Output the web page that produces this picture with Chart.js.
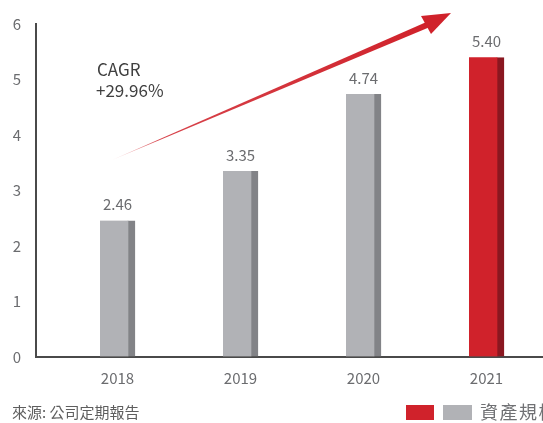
<!DOCTYPE html>
<html>
<head>
<meta charset="utf-8">
<script src="https://cdn.jsdelivr.net/npm/chart.js@4"></script>
<style>
  html, body { margin: 0; padding: 0; background: #fff; }
</style>
</head>
<body>
<canvas id="assetChart" width="543" height="423"></canvas>
<script>
Chart.defaults.font.family = '"Noto Sans CJK TC", "Noto Sans", sans-serif';
Chart.defaults.font.size = 15;

const years = ['2018', '2019', '2020', '2021'];
const assetSize = [2.46, 3.35, 4.74, 5.40];
const yTicks = [0, 1, 2, 3, 4, 5, 6];
const cagrLines = ['CAGR', '+29.96%'];
const sourceText = '來源: 公司定期報告';
const legendText = '資產規模';

const faceColors = ['#b1b2b6', '#b1b2b6', '#b1b2b6', '#d0222b'];
const sideColors = ['#828387', '#828387', '#828387', '#8a1720'];

// value labels, CAGR arrow, footer + legend
const extras = {
    id: 'extras',
    afterDatasetsDraw(chart) {
        const ctx = chart.ctx;
        const meta = chart.getDatasetMeta(0);
        ctx.save();
        ctx.fillStyle = '#6b6c6f';
        ctx.font = '15px "Noto Sans CJK TC"';
        ctx.textAlign = 'center';
        ctx.textBaseline = 'middle';
        meta.data.forEach((bar, i) => {
            ctx.fillText(assetSize[i].toFixed(2), bar.x, bar.y - 16);
        });
        ctx.restore();
    },
    afterDraw(chart) {
        const ctx = chart.ctx;
        ctx.save();

        // tapered arrow
        const x0 = 112, y0 = 160, x1 = 427, y1 = 25;
        const ang = Math.atan2(y1 - y0, x1 - x0);
        const nx = -Math.sin(ang), ny = Math.cos(ang);
        const w = 2.9;
        const grad = ctx.createLinearGradient(x0, y0, x1, y1);
        grad.addColorStop(0, 'rgba(208,34,43,0.15)');
        grad.addColorStop(0.15, 'rgba(208,34,43,0.85)');
        grad.addColorStop(1, '#d0222b');
        ctx.fillStyle = grad;
        ctx.beginPath();
        ctx.moveTo(x0, y0);
        ctx.lineTo(x1 + nx * w, y1 + ny * w);
        ctx.lineTo(x1 - nx * w, y1 - ny * w);
        ctx.closePath();
        ctx.fill();
        ctx.fillStyle = '#d0222b';
        ctx.beginPath();
        ctx.moveTo(451, 13);
        ctx.lineTo(421, 16);
        ctx.lineTo(431, 34);
        ctx.closePath();
        ctx.fill();

        // CAGR text
        ctx.fillStyle = '#404040';
        ctx.font = '17px "Noto Sans CJK TC"';
        ctx.textAlign = 'left';
        ctx.textBaseline = 'middle';
        ctx.fillText(cagrLines[0], 97, 70);
        ctx.fillText(cagrLines[1], 96, 91);

        // source
        ctx.fillStyle = '#5e5e5e';
        ctx.font = '15px "Noto Sans CJK TC"';
        ctx.fillText(sourceText, 12, 412);

        // legend
        ctx.fillStyle = faceColors[3];
        ctx.fillRect(406, 405, 28, 15);
        ctx.fillStyle = faceColors[0];
        ctx.fillRect(443, 405, 29, 15);
        ctx.fillStyle = '#707174';
        ctx.font = '18px "Noto Sans CJK TC"';
        ctx.letterSpacing = '1.5px';
        ctx.fillText(legendText, 480, 412);
        ctx.restore();
    }
};

const ctx = document.getElementById('assetChart').getContext('2d');
new Chart(ctx, {
    type: 'bar',
    data: {
        datasets: [{
            label: legendText,
            data: assetSize.map((v, i) => ({ x: i, y: v })),
            backgroundColor: faceColors,
            borderColor: sideColors,
            borderWidth: { top: 0, right: 7, bottom: 0, left: 0 },
            borderSkipped: false,
            barThickness: 35
        }]
    },
    options: {
        responsive: false,
        animation: false,
        events: [],
        layout: { padding: { top: 24, right: 0, left: 0, bottom: 0 } },
        plugins: {
            legend: { display: false },
            tooltip: { enabled: false }
        },
        scales: {
            x: {
                type: 'linear',
                offset: false,
                min: -0.6626,
                max: 3.4594,
                afterBuildTicks: scale => {
                    scale.ticks = years.map((_, i) => ({ value: i }));
                },
                afterFit: scale => { scale.height = 66; },
                ticks: {
                    callback: v => years[v],
                    color: '#6b6c6f',
                    padding: 12,
                    maxRotation: 0,
                    autoSkip: false
                },
                grid: { offset: false, drawOnChartArea: false, drawTicks: false, color: 'rgba(0,0,0,0)' },
                border: { color: '#4a4a4a', width: 2 }
            },
            y: {
                min: 0,
                max: 6,
                afterBuildTicks: scale => {
                    scale.ticks = yTicks.map(v => ({ value: v }));
                },
                afterFit: scale => { scale.width = 36; },
                ticks: {
                    color: '#6b6c6f',
                    padding: 15
                },
                grid: { drawOnChartArea: false, drawTicks: false, color: 'rgba(0,0,0,0)' },
                border: { color: '#4a4a4a', width: 2 }
            }
        }
    },
    plugins: [extras]
});
</script>
</body>
</html>
